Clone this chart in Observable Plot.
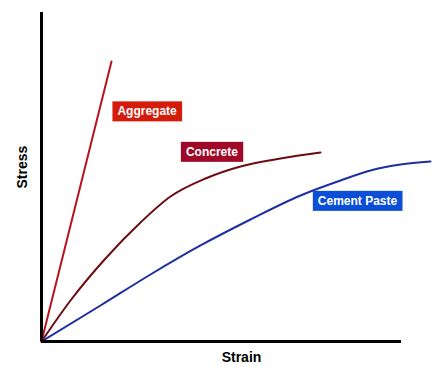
<!DOCTYPE html>
<html>
<head>
<meta charset="utf-8">
<script src="https://cdn.jsdelivr.net/npm/d3@7"></script>
<script src="https://cdn.jsdelivr.net/npm/@observablehq/plot@0.6"></script>
<style>
  html, body { margin: 0; padding: 0; background: #fff; }
  #chart svg { display: block; }
</style>
</head>
<body>
<div id="chart"></div>
<script>
// Strain / stress in arbitrary units
const aggregateStrain = [0, 1.75];
const aggregateStress = [0, 8.51];

const concreteStrain = [0, 0.725, 1.6, 2.475, 3.225, 4.1, 4.975, 5.975, 6.975];
const concreteStress = [0, 1.246, 2.523, 3.617, 4.407, 4.954, 5.319, 5.562, 5.745];

const pasteStrain = [0, 1.475, 2.725, 3.975, 5.225, 6.475, 7.475, 8.225, 8.975, 9.725];
const pasteStress = [0, 1.094, 2.036, 2.918, 3.708, 4.438, 4.894, 5.198, 5.380, 5.471];

const labelNames = ["Aggregate", "Concrete", "Cement Paste"];
const labelStrain = [2.64, 4.26, 7.9];
const labelStress = [6.99, 5.76, 4.27];
const labelColors = ["#d41c0a", "#a0082a", "#0b4fd8"];

const axisStrainEnd = 9.0;
const axisStressEnd = 10;

const toPts = (xs, ys) => xs.map((x, i) => ({strain: x, stress: ys[i]}));
const aggregate = toPts(aggregateStrain, aggregateStress);
const concrete = toPts(concreteStrain, concreteStress);
const paste = toPts(pasteStrain, pasteStress);
const labels = labelNames.map((n, i) => ({name: n, strain: labelStrain[i], stress: labelStress[i], color: labelColors[i]}));

const font = "'Liberation Sans', Arial, sans-serif";

const chart = Plot.plot({
  width: 442,
  height: 382,
  marginLeft: 41,
  marginRight: 1,
  marginTop: 12,
  marginBottom: 41,
  x: {domain: [0, 10], axis: null},
  y: {domain: [0, 10], axis: null},
  style: {fontFamily: font, background: "#fff"},
  marks: [
    Plot.line(paste, {x: "strain", y: "stress", stroke: "#1f2fa0", strokeWidth: 2, curve: "monotone-x"}),
    Plot.line(concrete, {x: "strain", y: "stress", stroke: "#6e0c14", strokeWidth: 2, curve: "monotone-x"}),
    Plot.line(aggregate, {x: "strain", y: "stress", stroke: "#b8121c", strokeWidth: 2}),
    Plot.ruleX([0], {y1: 0, y2: axisStressEnd, stroke: "#000", strokeWidth: 3}),
    Plot.ruleY([0], {x1: 0, x2: axisStrainEnd, stroke: "#000", strokeWidth: 3}),
    Plot.text(labels, {x: "strain", y: "stress", text: "name", fill: "#fff", fontWeight: "bold", fontSize: 12, className: "boxlabel"}),
    Plot.text(["Strain"], {frameAnchor: "bottom", dy: 20, fontWeight: "bold", fontSize: 14, fill: "#000"}),
    Plot.text(["Stress"], {x: 0, y: 5.3, dx: -19, rotate: -90, fontWeight: "bold", fontSize: 14, fill: "#000"})
  ]
});

document.getElementById("chart").appendChild(chart);

// Put a coloured box behind each label
const g = chart.querySelector("g.boxlabel") || chart.querySelector(".boxlabel");
if (g) {
  const texts = g.querySelectorAll("text");
  texts.forEach((t, i) => {
    const bb = t.getBBox();
    const padX = 5, padY = 3;
    const r = document.createElementNS("http://www.w3.org/2000/svg", "rect");
    r.setAttribute("x", bb.x - padX);
    r.setAttribute("y", bb.y - padY);
    r.setAttribute("width", bb.width + 2 * padX);
    r.setAttribute("height", bb.height + 2 * padY);
    r.setAttribute("fill", labels[i].color);
    const tr = t.getAttribute("transform");
    if (tr) r.setAttribute("transform", tr);
    t.parentNode.insertBefore(r, t);
  });
}
</script>
</body>
</html>
